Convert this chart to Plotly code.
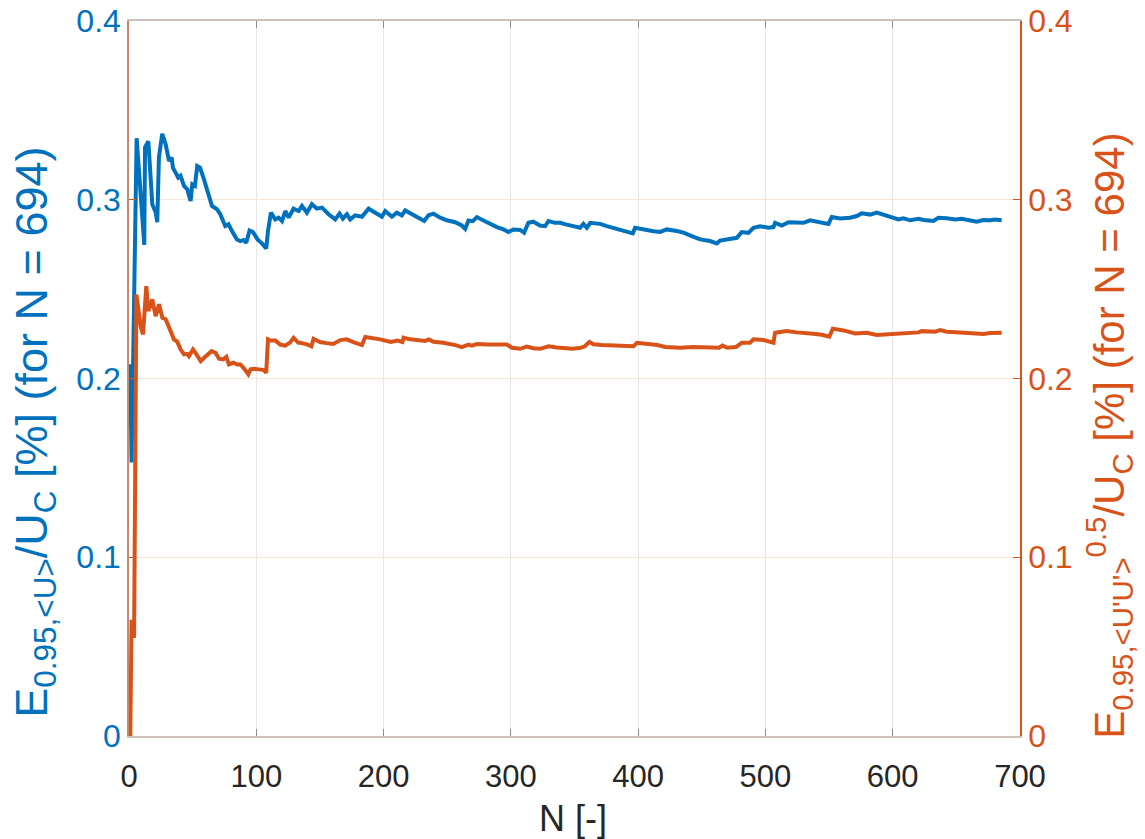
import plotly.graph_objects as go

# Running 95% uncertainty of the mean velocity (blue, left axis)
n_mean = [1, 2, 6, 9, 12, 12.6, 15.2, 18.3, 20.9, 22.2, 23.5, 26.1, 28.8, 31.4, 33.5, 34.5,
          38.7, 40.5, 43.2, 45.8, 48.4, 49.7, 51.8, 53.6, 55.8, 58.9, 62.8, 65.2, 69.1, 71.7,
          75.6, 78.2, 80.9, 84.8, 87.4, 90, 92.1, 94.7, 97.4, 101, 104.4, 107.8, 109.2, 111.5,
          114.9, 117.5, 120.2, 122.8, 125.4, 129.3, 133.2, 135.9, 139.8, 143.7, 147.6, 151.6,
          156.8, 162, 165.4, 168, 171.2, 173.8, 177.7, 183, 188.2, 193.4, 198.7, 201.3, 206.5,
          210.4, 214.3, 217, 222.2, 227.5, 231.9, 235.3, 239.2, 244.5, 249.7, 256.2, 261.5,
          264.1, 266.7, 270.1, 273.3, 278.5, 283.7, 289, 294.2, 298.1, 302, 307.3, 310.4, 313.8,
          317.7, 322.9, 326.9, 329.5, 334.7, 338.7, 343.9, 349.2, 354.4, 357, 359.7, 362.3,
          370.1, 375.4, 380.6, 385.8, 391.1, 395.8, 397.6, 401.6, 406.8, 412, 417.3, 422.5,
          430.4, 435.6, 442.1, 448.7, 456.5, 461.8, 464.4, 469.6, 473.6, 477.5, 481.4, 486.6,
          490.6, 495.8, 502.4, 506.3, 507.6, 512.9, 518.1, 524.6, 529.9, 535.1, 543, 549.5,
          552.1, 558.7, 566.5, 571.8, 575.7, 582.2, 587.5, 592.7, 599.3, 604.5, 608.4, 613.7,
          620.2, 624.2, 631.9, 635.9, 642.4, 649, 654.2, 659.4, 666, 671.2, 676.4, 680.3, 685.6]
e_mean = [0.208, 0.153, 0.3344, 0.305, 0.2747, 0.3294, 0.3327, 0.2975, 0.293, 0.2874, 0.3236,
          0.3369, 0.331, 0.3217, 0.3236, 0.318, 0.3124, 0.3134, 0.3077, 0.3058, 0.2993, 0.3086,
          0.3077, 0.3189, 0.318, 0.3114, 0.3012, 0.2965, 0.2947, 0.2919, 0.2853, 0.2863, 0.2825,
          0.2778, 0.2769, 0.2775, 0.2759, 0.2828, 0.2819, 0.2778, 0.2756, 0.2727, 0.2825, 0.2928,
          0.289, 0.29, 0.2881, 0.2937, 0.29, 0.295, 0.2937, 0.2965, 0.2928, 0.2975, 0.295, 0.2956,
          0.2919, 0.289, 0.2923, 0.2894, 0.2919, 0.289, 0.2913, 0.2905, 0.295, 0.2928, 0.2905,
          0.2937, 0.2905, 0.2928, 0.2913, 0.294, 0.2919, 0.2899, 0.2881, 0.2913, 0.2922, 0.29,
          0.2885, 0.2874, 0.2856, 0.2837, 0.2884, 0.288, 0.2903, 0.2884, 0.2865, 0.2847, 0.2834,
          0.282, 0.2834, 0.2831, 0.2816, 0.2871, 0.2877, 0.2856, 0.2852, 0.2881, 0.2871, 0.2871,
          0.2861, 0.2852, 0.2843, 0.2865, 0.2843, 0.2871, 0.2865, 0.2852, 0.2843, 0.2834, 0.2824,
          0.2812, 0.2843, 0.2837, 0.283, 0.2824, 0.282, 0.2834, 0.2825, 0.2816, 0.2797, 0.2778,
          0.2769, 0.2756, 0.2772, 0.2778, 0.2784, 0.2787, 0.2819, 0.2815, 0.2843, 0.2852, 0.2843,
          0.2847, 0.2871, 0.2856, 0.2874, 0.2871, 0.2871, 0.2885, 0.2876, 0.2865, 0.2903, 0.2895,
          0.2899, 0.2909, 0.2924, 0.2917, 0.2928, 0.2915, 0.2899, 0.289, 0.2896, 0.2885, 0.2894,
          0.2887, 0.2881, 0.2899, 0.2896, 0.289, 0.2894, 0.2887, 0.2877, 0.2887, 0.2885, 0.289,
          0.2885]

# Running 95% uncertainty of the RMS velocity (orange, right axis)
n_rms = [1, 2, 3, 4, 5.8, 9.1, 11, 13.6, 15.2, 18.3, 20.9, 23.6, 26.2, 28.8, 32.7, 35.3, 37.9,
         40.5, 43.2, 45.8, 47.1, 50.3, 53, 56.3, 59, 61.5, 64.9, 68, 70.7, 74, 76.5, 78.5, 82,
         85, 87.5, 90.3, 93.7, 95.5, 98, 102, 106, 107.8, 109.2, 111.3, 115, 118.8, 122.7, 126.5,
         129.3, 133, 134.5, 139.8, 143.3, 145, 150, 155.2, 160.5, 166, 171, 176.3, 183, 185.6,
         190.8, 197.3, 205.7, 210.9, 214.8, 215.7, 221, 227.5, 232.7, 235.3, 239.2, 247, 251.2,
         256.4, 261.5, 266.7, 269.4, 273.3, 281.2, 289, 296.9, 300.8, 307.3, 312.5, 317.7, 323,
         329.5, 336, 343.9, 348.5, 353.7, 357.6, 361.7, 364.9, 371.4, 380.6, 389.8, 396.3, 399,
         406.8, 415.1, 421.2, 432.9, 443.4, 453.9, 463.6, 466.2, 470.1, 476.7, 481.4, 487.9,
         490.6, 498.5, 506.3, 507.6, 516.8, 524.6, 531.2, 537.7, 544.3, 550.2, 552.9, 561.3,
         570.4, 579.6, 587.5, 596.7, 608.4, 620.2, 622.8, 633.3, 637.2, 642.4, 652.9, 663.3,
         671.2, 676.4, 685.6]
e_rms = [0.0, 0.065, 0.058, 0.055, 0.247, 0.2293, 0.2247, 0.2517, 0.2377, 0.2443, 0.2349,
         0.2415, 0.234, 0.2332, 0.2265, 0.2219, 0.2206, 0.2163, 0.2135, 0.2138, 0.2125, 0.2163,
         0.2135, 0.2097, 0.2116, 0.213, 0.2153, 0.2144, 0.2111, 0.2107, 0.2121, 0.2079, 0.2088,
         0.2079, 0.2079, 0.2057, 0.2023, 0.2051, 0.2054, 0.2051, 0.2047, 0.2032, 0.2219, 0.2212,
         0.2212, 0.219, 0.2184, 0.2201, 0.2228, 0.22, 0.22, 0.2191, 0.218, 0.2222, 0.2204, 0.2198,
         0.2193, 0.2215, 0.2219, 0.2204, 0.2187, 0.2232, 0.2228, 0.2219, 0.2204, 0.2212, 0.2204,
         0.2228, 0.2219, 0.2215, 0.221, 0.2219, 0.2206, 0.22, 0.2195, 0.2187, 0.2176, 0.219,
         0.2184, 0.2193, 0.219, 0.219, 0.219, 0.2172, 0.2166, 0.2178, 0.2169, 0.2166, 0.218,
         0.2174, 0.217, 0.2166, 0.217, 0.2178, 0.2204, 0.2191, 0.2187, 0.2184, 0.2184, 0.218,
         0.22, 0.2195, 0.2187, 0.2176, 0.2172, 0.2176, 0.2172, 0.2172, 0.2184, 0.2172, 0.2176,
         0.22, 0.22, 0.2219, 0.2215, 0.22, 0.2256, 0.2265, 0.2258, 0.2256, 0.225, 0.2245, 0.2234,
         0.2279, 0.2269, 0.2252, 0.2256, 0.2243, 0.2247, 0.2252, 0.2258, 0.2265, 0.2262, 0.2271,
         0.2262, 0.2258, 0.2252, 0.2249, 0.2254, 0.2256]

x_ticks = [0, 100, 200, 300, 400, 500, 600, 700]
y_ticks = [0, 0.1, 0.2, 0.3, 0.4]
y_tick_text = ["0", "0.1", "0.2", "0.3", "0.4"]

x_title = "N [-]"
y_title_left = "E<sub>0.95,&lt;U&gt;</sub>/U<sub>C</sub> [%] (for N = 694)"
y_title_right = "E<sub>0.95,&lt;U'U'&gt;</sub><sup>0.5</sup>/U<sub>C</sub> [%] (for N = 694)"

BLUE = "#0072BD"
ORANGE = "#D95319"
DARK = "#262626"
FONT = "Liberation Sans, Arial, Helvetica, sans-serif"

fig = go.Figure()
fig.add_trace(go.Scatter(x=n_mean, y=e_mean, mode="lines",
                         line=dict(color=BLUE, width=4), yaxis="y", showlegend=False))
fig.add_trace(go.Scatter(x=n_rms, y=e_rms, mode="lines",
                         line=dict(color=ORANGE, width=4), yaxis="y2", showlegend=False))

fig.update_layout(
    width=1145, height=839,
    margin=dict(l=129, r=125, t=21, b=103, autoexpand=False),
    paper_bgcolor="white", plot_bgcolor="white",
    font=dict(family=FONT, size=30, color=DARK),
    xaxis=dict(
        range=[0, 700], tickvals=x_ticks, ticks="inside", ticklen=7, tickcolor="#8c8c8c",
        showline=True, linecolor="#cdc2bb", linewidth=1.5, mirror="ticks",
        showgrid=True, gridcolor="#e6e6e6", gridwidth=1, zeroline=False, automargin=False,
        tickfont=dict(size=31, color=DARK), ticklabelstandoff=12,
    ),
    yaxis=dict(
        range=[0, 0.4], tickvals=y_ticks, ticktext=y_tick_text, ticks="inside", ticklen=7,
        tickcolor=ORANGE, showline=True, linecolor="#c9876a", linewidth=1.5,
        showgrid=True, gridcolor="#f9e4da", gridwidth=1, zeroline=False, automargin=False,
        tickfont=dict(size=32, color=BLUE),
    ),
    yaxis2=dict(
        range=[0, 0.4], tickvals=y_ticks, ticktext=y_tick_text, ticks="inside", ticklen=7,
        tickcolor=ORANGE, showline=True, linecolor=ORANGE, linewidth=1.5,
        overlaying="y", side="right", showgrid=False, zeroline=False, automargin=False,
        tickfont=dict(size=32, color=ORANGE),
    ),
    annotations=[
        dict(text=x_title, xref="paper", yref="paper", x=0.498, y=-0.115,
             xanchor="center", yanchor="middle", showarrow=False,
             font=dict(size=36, color=DARK)),
        dict(text=y_title_left, xref="paper", yref="paper", x=-0.107, y=0.425,
             xanchor="center", yanchor="middle", showarrow=False, textangle=-90,
             font=dict(size=45, color=BLUE)),
        dict(text=y_title_right, xref="paper", yref="paper", x=1.1, y=0.42,
             xanchor="center", yanchor="middle", showarrow=False, textangle=-90,
             font=dict(size=42, color=ORANGE)),
    ],
)

fig.write_html("out.html")
